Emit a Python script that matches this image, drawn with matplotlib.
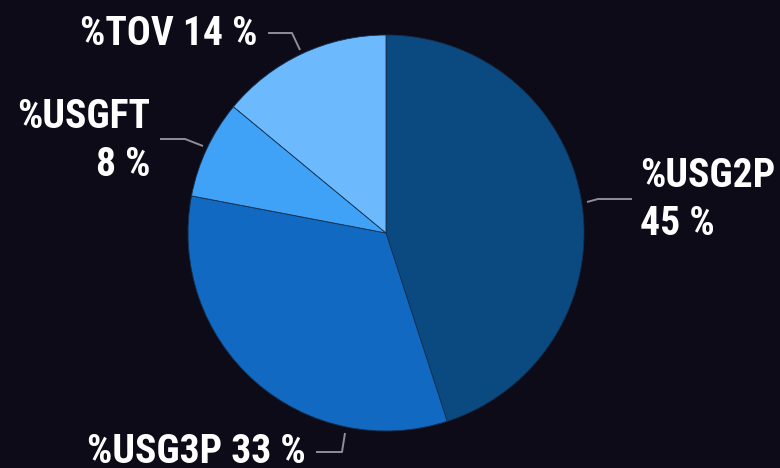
import matplotlib
matplotlib.use("Agg")
import matplotlib.pyplot as plt
from matplotlib import font_manager

categories = ["%USG2P", "%USG3P", "%USGFT", "%TOV"]
values = [45, 33, 8, 14]
colors = ["#0b4a80", "#1169c2", "#3fa2f7", "#6db9fd"]

avail = {f.name for f in font_manager.fontManager.ttflist}
fam = [f for f in ["Liberation Sans Narrow", "Roboto Condensed", "Roboto", "Liberation Sans", "DejaVu Sans"] if f in avail]

W, H = 780, 468
BG = "#0e0b18"
fig = plt.figure(figsize=(W / 100, H / 100), dpi=100, facecolor=BG)
ax = fig.add_axes([0, 0, 1, 1])
ax.set_facecolor(BG)

cx, cy, R = 386, H - 233, 198
ax.pie(values, colors=colors, startangle=90, counterclock=False,
       center=(cx, cy), radius=R, frame=True,
       wedgeprops=dict(edgecolor="#12304f", linewidth=0.6))
ax.set_xlim(0, W)
ax.set_ylim(0, H)
ax.set_aspect("equal")
ax.axis("off")

def Y(py):
    return H - py

# label layout (pixel coords from top-left): connector polyline, text lines
layout = {
    "%USG2P": dict(line=[(587, 202), (598, 199), (632, 199)], x=640, ha="left",
                   lines=[("{c}", 187), ("{v} %", 235)]),
    "%USG3P": dict(line=[(345, 433), (342, 452), (316, 452)], x=306, ha="right",
                   lines=[("{c} {v} %", 463)]),
    "%USGFT": dict(line=[(203, 146), (185, 139), (160, 139)], x=150, ha="right",
                   lines=[("{c}", 128), ("{v} %", 176)]),
    "%TOV": dict(line=[(300, 50), (292, 33), (268, 33)], x=257, ha="right",
                 lines=[("{c} {v} %", 45)]),
}

for c, v in zip(categories, values):
    L = layout[c]
    xs = [p[0] for p in L["line"]]
    ys = [Y(p[1]) for p in L["line"]]
    ax.plot(xs, ys, color="#8e8e96", lw=1.4, solid_capstyle="butt")
    for fmt, by in L["lines"]:
        ax.text(L["x"], Y(by), fmt.format(c=c, v=v), ha=L["ha"], va="baseline",
                fontsize=28.5, fontweight="bold", color="white", family=fam)

fig.savefig("out.png", dpi=100, facecolor=BG)
